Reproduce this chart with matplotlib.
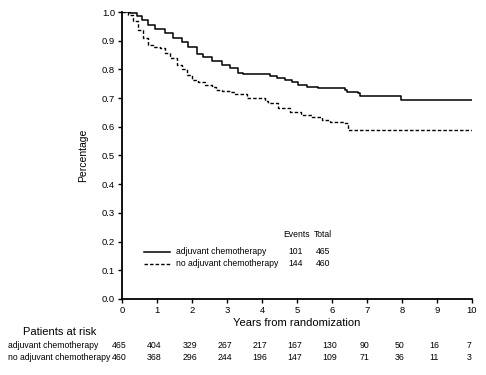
import numpy as np
import matplotlib.pyplot as plt
import matplotlib.transforms as mtransforms

plt.rcParams['font.family'] = ['Liberation Sans', 'DejaVu Sans']

# Kaplan-Meier step curves
chemo_t = [0, 0.23, 0.42, 0.56, 0.75, 0.94, 1.23, 1.47, 1.71, 1.9, 2.13, 2.32, 2.56, 2.85,
           3.09, 3.32, 3.47, 4.23, 4.42, 4.66, 4.85, 5.04, 5.28, 5.61, 6.37, 6.42, 6.75, 6.8,
           7.96, 10]
chemo_s = [1.0, 0.997, 0.985, 0.973, 0.954, 0.942, 0.927, 0.909, 0.895, 0.877, 0.854, 0.842,
           0.828, 0.814, 0.805, 0.787, 0.783, 0.777, 0.77, 0.763, 0.757, 0.746, 0.74, 0.734,
           0.728, 0.72, 0.717, 0.708, 0.693, 0.693]
nochemo_t = [0, 0.18, 0.32, 0.47, 0.61, 0.75, 0.9, 1.09, 1.23, 1.37, 1.56, 1.71, 1.85, 1.99,
             2.18, 2.37, 2.56, 2.7, 2.85, 3.09, 3.23, 3.56, 4.09, 4.18, 4.47, 4.8, 5.13, 5.42,
             5.71, 5.94, 6.37, 6.47, 10]
nochemo_s = [1.0, 0.991, 0.967, 0.938, 0.909, 0.886, 0.878, 0.875, 0.857, 0.84, 0.816, 0.8,
             0.782, 0.764, 0.756, 0.747, 0.738, 0.729, 0.726, 0.721, 0.714, 0.699, 0.691,
             0.682, 0.664, 0.653, 0.641, 0.633, 0.624, 0.618, 0.612, 0.59, 0.59]

groups = ['adjuvant chemotherapy', 'no adjuvant chemotherapy']
events = [101, 144]
totals = [465, 460]
years = list(range(11))
at_risk_chemo = [465, 404, 329, 267, 217, 167, 130, 90, 50, 16, 7]
at_risk_nochemo = [460, 368, 296, 244, 196, 147, 109, 71, 36, 11, 3]

fig = plt.figure(figsize=(4.86, 3.75), dpi=100)
ax = fig.add_axes([0.251, 0.203, 0.72, 0.765])

ax.step(chemo_t, chemo_s, where='post', color='black', lw=1.1)
ax.step(nochemo_t, nochemo_s, where='post', color='black', lw=1.0, ls=(0, (2.5, 1.5)))

ax.set_xlim(0, 10)
ax.set_ylim(0, 1.0)
ax.set_xticks(years)
ax.set_yticks(np.arange(0, 1.01, 0.1))
ax.set_yticklabels(['%.1f' % v for v in np.arange(0, 1.01, 0.1)])
ax.spines['top'].set_visible(False)
ax.spines['right'].set_visible(False)
ax.spines['left'].set_linewidth(1.3)
ax.spines['bottom'].set_linewidth(1.3)
ax.tick_params(direction='out', length=3, width=1, labelsize=6.8, pad=2)
ax.set_ylabel('Percentage', fontsize=7.5, labelpad=10)
ax.set_xlabel('Years from randomization', fontsize=8, labelpad=2)

# legend with events/total columns
fs = 6.2
ax.plot([0.63, 1.37], [0.164, 0.164], color='black', lw=1.1)
ax.plot([0.63, 1.37], [0.122, 0.122], color='black', lw=1.0, ls=(0, (2.5, 1.5)))
for y, g, e, n in zip([0.164, 0.122], groups, events, totals):
    ax.text(1.54, y, g, fontsize=fs, va='center')
    ax.text(4.95, y, str(e), fontsize=fs, va='center', ha='center')
    ax.text(5.74, y, str(n), fontsize=fs, va='center', ha='center')
ax.text(4.99, 0.223, 'Events', fontsize=fs, va='center', ha='center')
ax.text(5.74, 0.223, 'Total', fontsize=fs, va='center', ha='center')

# patients at risk table
tr = mtransforms.blended_transform_factory(ax.transData, fig.transFigure)
fig.text(0.047, 1 - 332 / 375, 'Patients at risk', fontsize=8, va='center')
fig.text(0.017, 1 - 345 / 375, groups[0], fontsize=fs, va='center')
fig.text(0.017, 1 - 357 / 375, groups[1], fontsize=fs, va='center')
for x, a, b in zip(years, at_risk_chemo, at_risk_nochemo):
    ax.text(x - 0.07, 1 - 345 / 375, str(a), fontsize=6.3, va='center', ha='center', transform=tr)
    ax.text(x - 0.07, 1 - 357 / 375, str(b), fontsize=6.3, va='center', ha='center', transform=tr)

fig.savefig('out.png', dpi=100)
